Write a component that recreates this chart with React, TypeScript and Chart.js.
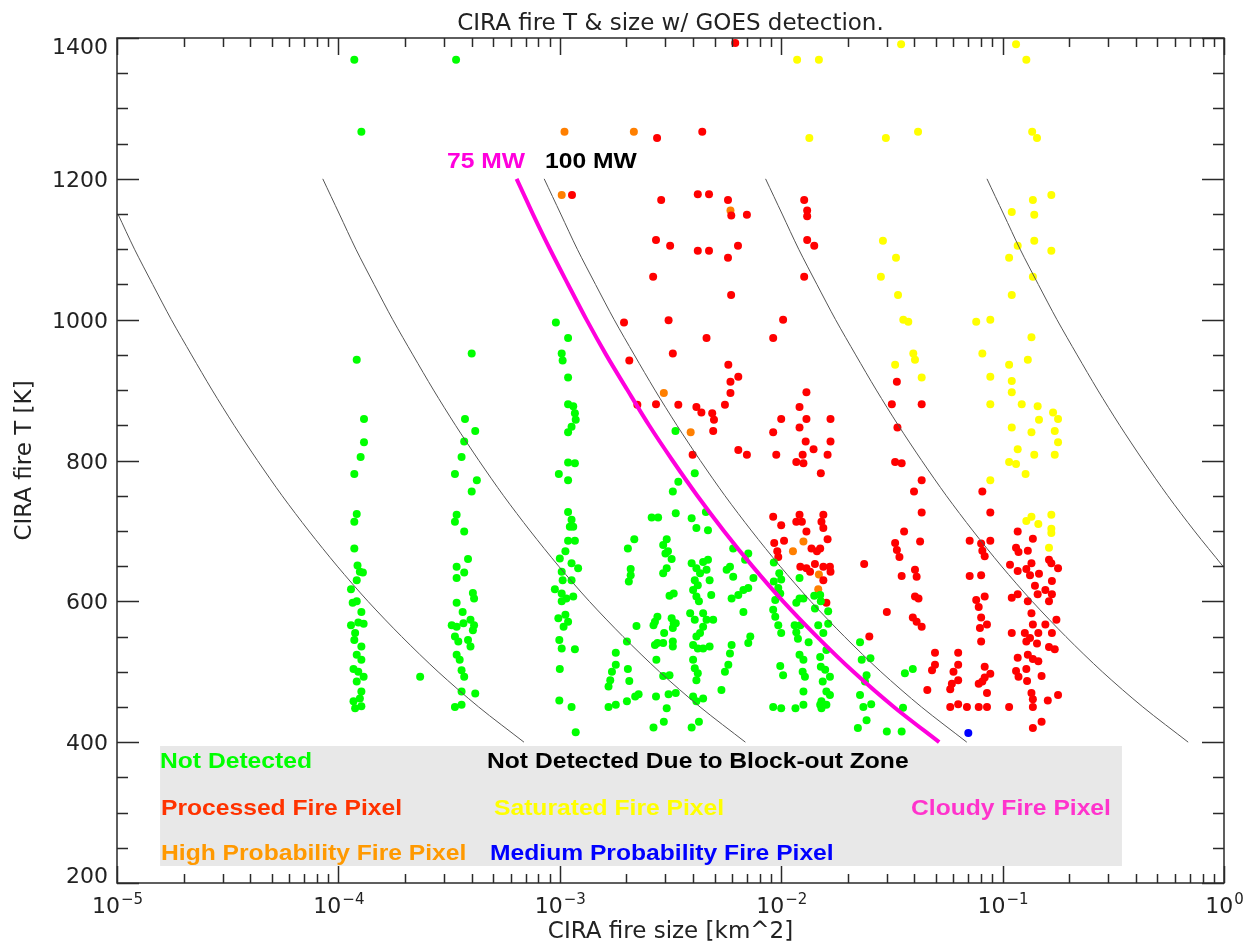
import React, { useEffect, useRef } from "react";
import { Chart, registerables } from "chart.js";

Chart.register(...registerables);

// ---------------- data (fire size [km^2], fire T [K]) ----------------
const notDetected: [number, number][] = [
  // column ~1.2e-4
  [1.18e-4, 1369], [1.27e-4, 1267], [1.21e-4, 943], [1.305e-4, 859], [1.305e-4, 826], [1.26e-4, 805],
  [1.18e-4, 781], [1.21e-4, 724], [1.18e-4, 713], [1.18e-4, 675], [1.22e-4, 651], [1.29e-4, 641],
  [1.21e-4, 630], [1.14e-4, 617], [1.21e-4, 600], [1.27e-4, 585], [1.14e-4, 566], [1.30e-4, 568],
  [1.23e-4, 570], [1.19e-4, 555], [1.18e-4, 545], [1.27e-4, 536], [1.21e-4, 524], [1.27e-4, 517],
  [1.17e-4, 504], [1.30e-4, 493], [1.23e-4, 500], [1.21e-4, 486], [1.27e-4, 472], [1.25e-4, 462],
  [1.17e-4, 458], [1.19e-4, 448], [1.27e-4, 451], [1.25e-4, 642], [1.16e-4, 598], [2.34e-4, 493],
  // column ~3.5e-4
  [3.4e-4, 1369], [4.0e-4, 952], [3.73e-4, 859], [4.15e-4, 842], [3.7e-4, 827], [3.6e-4, 805],
  [3.36e-4, 781], [4.22e-4, 772], [4.0e-4, 756], [3.42e-4, 723], [3.36e-4, 713], [3.7e-4, 699],
  [3.85e-4, 660], [3.42e-4, 649], [3.7e-4, 641], [3.42e-4, 633], [4.05e-4, 612], [4.1e-4, 604],
  [3.42e-4, 598], [3.64e-4, 585], [3.25e-4, 566], [3.42e-4, 564], [3.67e-4, 569], [3.95e-4, 574],
  [4.1e-4, 566], [4.05e-4, 559], [3.36e-4, 550], [3.48e-4, 543], [3.85e-4, 545], [3.95e-4, 536],
  [3.42e-4, 524], [3.53e-4, 517], [3.6e-4, 502], [3.7e-4, 493], [3.6e-4, 472], [4.15e-4, 469],
  [3.36e-4, 450], [3.6e-4, 453],
  // column ~1.1e-3
  [9.6e-4, 996], [1.09e-3, 974], [1.02e-3, 952], [1.03e-3, 942], [1.09e-3, 918], [1.09e-3, 880],
  [1.15e-3, 877], [1.17e-3, 867], [1.18e-3, 858], [1.13e-3, 848], [1.09e-3, 840], [1.09e-3, 797],
  [1.17e-3, 796], [9.9e-4, 781], [1.09e-3, 772], [1.09e-3, 727], [1.13e-3, 716], [1.11e-3, 706],
  [1.15e-3, 706], [1.09e-3, 686], [1.17e-3, 686], [1.06e-3, 671], [1.0e-3, 661], [1.13e-3, 654],
  [1.21e-3, 647], [1.02e-3, 642], [1.03e-3, 630], [1.13e-3, 630], [9.5e-4, 617], [1.02e-3, 611],
  [1.07e-3, 604], [1.15e-3, 607], [1.02e-3, 600], [9.85e-4, 576], [1.06e-3, 581], [1.09e-3, 571],
  [1.04e-3, 564], [9.95e-4, 545], [1.02e-3, 533], [1.17e-3, 532], [1.0e-3, 504], [9.95e-4, 459],
  [1.13e-3, 450], [1.18e-3, 414],
  // cluster 1.6e-3 .. 7.5e-3
  [2.6e-3, 719], [2.78e-3, 719], [2.17e-3, 688], [2.03e-3, 675], [2.09e-3, 646], [2.09e-3, 637],
  [2.05e-3, 628], [2.22e-3, 565], [1.79e-3, 527], [1.79e-3, 510], [1.72e-3, 500], [1.69e-3, 488],
  [1.66e-3, 479], [2.03e-3, 504], [2.06e-3, 487], [1.66e-3, 450], [1.79e-3, 453], [2.01e-3, 458],
  [2.19e-3, 465], [2.27e-3, 468], [2.01e-3, 543],
  [3.04e-3, 688], [2.93e-3, 680], [3.08e-3, 671], [3.2e-3, 660], [3.0e-3, 668], [2.93e-3, 640],
  [3.04e-3, 647], [2.69e-3, 571], [2.76e-3, 578], [2.65e-3, 566], [2.96e-3, 555], [2.76e-3, 541],
  [2.69e-3, 538], [2.93e-3, 541], [2.73e-3, 517], [2.93e-3, 494], [3.13e-3, 495], [2.72e-3, 465],
  [3.04e-3, 448], [3.1e-3, 468], [2.65e-3, 421], [2.95e-3, 429], [3.13e-3, 608], [3.27e-3, 611],
  [3.2e-3, 576], [3.27e-3, 569], [3.24e-3, 562], [3.34e-3, 569], [3.24e-3, 543], [3.24e-3, 536],
  [3.34e-3, 470],
  [3.94e-3, 654], [4.14e-3, 647], [4.44e-3, 656], [4.67e-3, 659], [4.6e-3, 645], [4.3e-3, 640],
  [4.07e-3, 630], [4.2e-3, 623], [4.0e-3, 616], [4.14e-3, 607], [4.25e-3, 600], [4.75e-3, 630],
  [4.83e-3, 609], [3.88e-3, 583], [4.07e-3, 574], [4.44e-3, 583], [4.6e-3, 574], [4.93e-3, 574],
  [4.44e-3, 564], [4.3e-3, 555], [4.14e-3, 550], [4.0e-3, 538], [4.2e-3, 533], [4.44e-3, 533],
  [4.75e-3, 536], [4.0e-3, 517], [4.07e-3, 505], [4.2e-3, 498], [4.14e-3, 488], [4.0e-3, 465],
  [4.44e-3, 462], [4.14e-3, 458], [3.94e-3, 421], [4.25e-3, 429], [3.34e-3, 725], [3.94e-3, 718],
  [4.14e-3, 704], [4.67e-3, 701], [4.57e-3, 727], [4.07e-3, 782], [3.43e-3, 770], [3.24e-3, 756],
  [3.33e-3, 842],
  [5.87e-3, 649], [6.07e-3, 635], [5.67e-3, 645], [5.97e-3, 604], [6.4e-3, 609], [6.75e-3, 616],
  [6.75e-3, 585], [5.97e-3, 538], [5.87e-3, 526], [7.25e-3, 550], [7.1e-3, 541], [5.77e-3, 510],
  [5.57e-3, 500], [5.37e-3, 474], [6.07e-3, 675], [6.87e-3, 659], [7.1e-3, 668], [7.49e-3, 633],
  [7.1e-3, 619],
  // column ~1.2e-2
  [9.26e-3, 655], [9.8e-3, 640], [1.0e-2, 631], [9.26e-3, 628], [9.7e-3, 619], [9.9e-3, 611],
  [9.4e-3, 602], [9.2e-3, 588], [9.4e-3, 578], [9.7e-3, 566], [1.0e-2, 555], [1.21e-2, 633],
  [1.21e-2, 604], [1.26e-2, 604], [1.17e-2, 598], [1.41e-2, 608], [1.50e-2, 609], [1.42e-2, 590],
  [1.51e-2, 600], [1.63e-2, 586], [1.15e-2, 566], [1.22e-2, 566], [1.47e-2, 566], [1.55e-2, 555],
  [1.63e-2, 568], [1.17e-2, 556], [1.19e-2, 547], [1.33e-2, 542], [1.21e-2, 524], [1.26e-2, 517],
  [1.50e-2, 521], [1.60e-2, 531], [1.51e-2, 507], [1.58e-2, 503], [1.66e-2, 493], [9.9e-3, 508],
  [1.02e-2, 495], [1.25e-2, 500], [1.28e-2, 493], [1.54e-2, 486], [1.26e-2, 472], [1.60e-2, 472],
  [1.66e-2, 467], [1.52e-2, 458], [9.2e-3, 450], [1.0e-2, 448], [1.16e-2, 448], [1.26e-2, 453],
  [1.50e-2, 453], [1.60e-2, 453], [1.52e-2, 448],
  // 2e-2 .. 4e-2
  [2.27e-2, 542], [2.31e-2, 517], [2.53e-2, 519], [2.43e-2, 495], [2.39e-2, 486], [2.27e-2, 467],
  [2.35e-2, 450], [2.55e-2, 454], [2.43e-2, 431], [2.22e-2, 420], [3.0e-2, 415], [3.5e-2, 415],
  [3.62e-2, 498], [3.93e-2, 504], [3.55e-2, 449],
];

const processed: [number, number][] = [
  [6.2e-3, 1393], [2.75e-3, 1258], [4.4e-3, 1267], [1.135e-3, 1177], [2.87e-3, 1170], [4.2e-3, 1178],
  [4.72e-3, 1178], [5.75e-3, 1170], [5.95e-3, 1148], [7.0e-3, 1149], [2.72e-3, 1113], [3.15e-3, 1105],
  [4.2e-3, 1098], [4.72e-3, 1098], [6.38e-3, 1105], [5.75e-3, 1088], [2.64e-3, 1061], [5.94e-3, 1035],
  [1.27e-2, 1170], [1.31e-2, 1155], [1.31e-2, 1147], [1.31e-2, 1113], [1.41e-2, 1105], [1.27e-2, 1061],
  [1.95e-3, 996], [3.1e-3, 999], [4.6e-3, 974], [3.24e-3, 952], [2.06e-3, 942], [5.77e-3, 936],
  [6.4e-3, 919], [5.9e-3, 912], [5.9e-3, 896], [2.24e-3, 879], [2.72e-3, 880], [3.43e-3, 879],
  [4.14e-3, 876], [4.36e-3, 868], [4.88e-3, 867], [4.97e-3, 858], [5.57e-3, 879], [4.93e-3, 842],
  [3.98e-3, 808], [6.4e-3, 815], [7.0e-3, 808],
  [1.02e-2, 1000], [9.2e-3, 974], [1.30e-2, 897], [1.21e-2, 876], [1.0e-2, 859], [1.30e-2, 859],
  [1.67e-2, 859], [9.2e-3, 840], [1.21e-2, 847], [1.29e-2, 827], [1.40e-2, 816], [1.67e-2, 827],
  [9.5e-3, 808], [1.25e-2, 808], [1.17e-2, 798], [1.26e-2, 796], [1.62e-2, 808], [1.51e-2, 782],
  [9.2e-3, 720], [1.0e-2, 708], [1.21e-2, 723], [1.17e-2, 713], [1.24e-2, 713], [1.55e-2, 723],
  [1.52e-2, 713], [1.55e-2, 704], [1.30e-2, 699], [1.62e-2, 688], [9.3e-3, 683], [9.6e-3, 671],
  [9.7e-3, 663], [1.03e-2, 686], [1.37e-2, 675], [1.45e-2, 671], [1.50e-2, 675], [1.22e-2, 649],
  [1.30e-2, 647], [1.35e-2, 642], [1.42e-2, 653], [1.55e-2, 649], [1.67e-2, 642], [1.66e-2, 649],
  [1.55e-2, 630], [1.60e-2, 598],
  [3.33e-2, 912], [3.16e-2, 880], [4.31e-2, 880], [3.35e-2, 847], [3.27e-2, 798], [3.5e-2, 796],
  [4.31e-2, 772], [3.98e-2, 756], [4.31e-2, 726], [3.59e-2, 699], [4.24e-2, 685], [3.27e-2, 683],
  [3.33e-2, 673], [3.42e-2, 663], [2.37e-2, 653], [3.5e-2, 636], [4.02e-2, 645], [4.09e-2, 635],
  [4.02e-2, 607], [4.17e-2, 604], [3.0e-2, 585], [3.93e-2, 577], [4.09e-2, 571], [4.31e-2, 564],
  [2.5e-2, 550], [4.57e-2, 474],
  [4.95e-2, 527], [4.95e-2, 510], [4.8e-2, 502], [6.3e-2, 527], [6.3e-2, 510], [6.0e-2, 500],
  [6.3e-2, 488], [5.9e-2, 483], [5.8e-2, 475], [5.8e-2, 450], [6.3e-2, 454], [6.9e-2, 450],
  [8.1e-2, 756], [8.8e-2, 726], [7.1e-2, 686], [8.0e-2, 682], [8.8e-2, 686], [8.1e-2, 672],
  [8.3e-2, 664], [7.1e-2, 636], [8.0e-2, 637], [7.6e-2, 602], [8.3e-2, 607], [7.8e-2, 592],
  [8.0e-2, 577], [8.5e-2, 567], [7.9e-2, 562], [8.0e-2, 543], [8.3e-2, 507], [8.8e-2, 497],
  [7.8e-2, 483], [8.1e-2, 486], [8.5e-2, 470], [7.8e-2, 450], [8.5e-2, 450], [8.3e-2, 492],
  [0.117, 699], [0.137, 689], [0.115, 676], [0.118, 670], [0.130, 672], [0.162, 659], [0.166, 654],
  [0.178, 647], [0.108, 652], [0.117, 643], [0.128, 646], [0.135, 654], [0.133, 637], [0.146, 639],
  [0.167, 629], [0.140, 622], [0.144, 610], [0.156, 616], [0.162, 600], [0.167, 610], [0.110, 605],
  [0.117, 610], [0.130, 600], [0.135, 583], [0.137, 567], [0.156, 567], [0.175, 574], [0.167, 555],
  [0.110, 555], [0.126, 555], [0.145, 555], [0.133, 548], [0.128, 543], [0.143, 540], [0.162, 535],
  [0.172, 532], [0.117, 520], [0.130, 524], [0.137, 518], [0.145, 515], [0.115, 501], [0.118, 493],
  [0.128, 504], [0.150, 494], [0.129, 487], [0.135, 470], [0.137, 461], [0.160, 459], [0.178, 467],
  [0.137, 450], [0.107, 450], [0.137, 420], [0.150, 429],
];

const highProbability: [number, number][] = [
  [1.05e-3, 1267], [2.16e-3, 1267], [1.02e-3, 1177], [5.9e-3, 1155], [2.95e-3, 896], [3.9e-3, 840],
  [1.26e-2, 685], [1.13e-2, 671], [1.48e-2, 638], [1.47e-2, 617],
];

const saturated: [number, number][] = [
  [1.18e-2, 1369], [1.48e-2, 1369], [1.34e-2, 1258], [3.48e-2, 1391], [0.115, 1391], [0.128, 1369],
  [2.97e-2, 1258], [4.15e-2, 1267], [0.136, 1267], [0.143, 1258], [0.166, 1177], [0.137, 1170],
  [0.110, 1153], [0.139, 1149], [0.139, 1112], [0.117, 1105], [0.107, 1088], [0.166, 1098],
  [0.137, 1061], [0.110, 1035], [2.88e-2, 1112], [3.3e-2, 1088], [2.82e-2, 1061], [3.37e-2, 1035],
  [3.56e-2, 1000], [3.75e-2, 997], [3.95e-2, 952], [4.02e-2, 943], [3.27e-2, 936], [4.31e-2, 918],
  [7.6e-2, 997], [8.8e-2, 1000], [0.135, 975], [8.1e-2, 952], [0.130, 943], [0.107, 936],
  [8.8e-2, 919], [0.110, 913], [0.110, 897], [8.8e-2, 880], [0.122, 880], [0.144, 877],
  [0.169, 868], [0.178, 859], [0.146, 858], [0.110, 847], [0.135, 840], [0.172, 842],
  [0.178, 826], [0.117, 816], [0.139, 808], [0.172, 808], [0.107, 798], [0.115, 795],
  [0.127, 781], [8.8e-2, 772],
  [0.128, 714], [0.135, 720], [0.145, 710], [0.166, 723], [0.166, 703], [0.166, 697], [0.162, 676],
];

const mediumProbability: [number, number][] = [[7.0e-2, 413]];

// constant-power curves: temperatures and matching fire sizes
const curveT = [400, 450, 500, 550, 600, 650, 700, 750, 800, 850, 900, 950, 1000, 1050, 1100, 1150, 1200];
const size1MW = [6.89e-4, 4.30e-4, 2.82e-4, 1.93e-4, 1.36e-4, 9.88e-5, 7.35e-5, 5.57e-5, 4.31e-5, 3.38e-5, 2.69e-5, 2.17e-5, 1.76e-5, 1.45e-5, 1.20e-5, 1.01e-5];
const size10MW = [6.89e-3, 4.30e-3, 2.82e-3, 1.93e-3, 1.36e-3, 9.88e-4, 7.35e-4, 5.57e-4, 4.31e-4, 3.38e-4, 2.69e-4, 2.17e-4, 1.76e-4, 1.45e-4, 1.20e-4, 1.01e-4, 8.50e-5];
const size100MW = [6.89e-2, 4.30e-2, 2.82e-2, 1.93e-2, 1.36e-2, 9.88e-3, 7.35e-3, 5.57e-3, 4.31e-3, 3.38e-3, 2.69e-3, 2.17e-3, 1.76e-3, 1.45e-3, 1.20e-3, 1.01e-3, 8.50e-4];
const size1000MW = [0.689, 0.430, 0.282, 0.193, 0.136, 9.88e-2, 7.35e-2, 5.57e-2, 4.31e-2, 3.38e-2, 2.69e-2, 2.17e-2, 1.76e-2, 1.45e-2, 1.20e-2, 1.01e-2, 8.50e-3];
const curveT10000 = [650, 700, 750, 800, 850, 900, 950, 1000, 1050, 1100, 1150, 1200];
const size10000MW = [0.988, 0.735, 0.557, 0.431, 0.338, 0.269, 0.217, 0.176, 0.145, 0.120, 0.101, 0.085];
const size75MW = [5.17e-2, 3.23e-2, 2.12e-2, 1.45e-2, 1.02e-2, 7.41e-3, 5.51e-3, 4.18e-3, 3.23e-3, 2.53e-3, 2.02e-3, 1.62e-3, 1.32e-3, 1.09e-3, 9.03e-4, 7.56e-4, 6.38e-4];

// axis ticks
const yMajorTicks = [200, 400, 600, 800, 1000, 1200, 1400];
const yMinorTicks = [250, 300, 350, 450, 500, 550, 650, 700, 750, 850, 900, 950, 1050, 1100, 1150, 1250, 1300, 1350];
const xDecades = [1e-5, 1e-4, 1e-3, 1e-2, 1e-1, 1];
const xExponents = ["\u22125", "\u22124", "\u22123", "\u22122", "\u22121", "0"];
const xMinorMultipliers = [2, 3, 4, 5, 6, 7, 8, 9];

// legend texts
const legendTexts = [
  { text: "Not Detected", color: "#00ff00", x: 160, y: 768 },
  { text: "Not Detected Due to Block-out Zone", color: "#000000", x: 487, y: 768 },
  { text: "Processed Fire Pixel", color: "#ff3300", x: 161, y: 815 },
  { text: "Saturated Fire Pixel", color: "#ffff00", x: 494, y: 815 },
  { text: "Cloudy Fire Pixel", color: "#ff33cc", x: 911, y: 815 },
  { text: "High Probability Fire Pixel", color: "#ff9900", x: 161, y: 860 },
  { text: "Medium Probability Fire Pixel", color: "#0000ff", x: 490, y: 860 },
];
const legendBox = { x0: 1.565e-5, x1: 0.346, t0: 394.6, t1: 224.2 };

const toXY = (arr: [number, number][]) => arr.map(([x, y]) => ({ x, y }));
const curve = (sizes: number[], temps: number[]) => sizes.map((s, i) => ({ x: s, y: temps[i] }));

const LABEL_FONT = '"DejaVu Sans", sans-serif';
const BOLD_FONT = '"Liberation Sans", Arial, sans-serif';

const idlPlugin = {
  id: "idlFrame",
  beforeDatasetsDraw(chart: any) {
    const { ctx, scales } = chart;
    const xs = scales.x, ys = scales.y;
    const l = xs.getPixelForValue(legendBox.x0);
    const r = xs.getPixelForValue(legendBox.x1);
    const t = ys.getPixelForValue(legendBox.t0);
    const b = ys.getPixelForValue(legendBox.t1);
    ctx.save();
    ctx.fillStyle = "#e8e8e8";
    ctx.fillRect(l, t, r - l, b - t);
    ctx.restore();
  },
  afterDraw(chart: any) {
    const { ctx, scales, chartArea } = chart;
    const xs = scales.x, ys = scales.y;
    const { left, right, top, bottom } = chartArea;
    ctx.save();
    // frame
    ctx.strokeStyle = "#2a2a2a";
    ctx.lineWidth = 1.5;
    ctx.strokeRect(left, top, right - left, bottom - top);
    // y ticks
    ctx.lineWidth = 1.5;
    const drawY = (v: number, len: number) => {
      const py = Math.round(ys.getPixelForValue(v)) + 0.5;
      ctx.beginPath();
      ctx.moveTo(left, py); ctx.lineTo(left + len, py);
      ctx.moveTo(right, py); ctx.lineTo(right - len, py);
      ctx.stroke();
    };
    yMajorTicks.forEach((v) => drawY(v, 22));
    yMinorTicks.forEach((v) => drawY(v, 11));
    // x ticks
    const drawX = (v: number, len: number) => {
      const px = Math.round(xs.getPixelForValue(v)) + 0.5;
      ctx.beginPath();
      ctx.moveTo(px, bottom); ctx.lineTo(px, bottom - len);
      ctx.moveTo(px, top); ctx.lineTo(px, top + len);
      ctx.stroke();
    };
    xDecades.forEach((d, i) => {
      drawX(d, 17);
      if (i < xDecades.length - 1) xMinorMultipliers.forEach((m) => drawX(d * m, 9));
    });

    // y tick labels
    ctx.fillStyle = "#222";
    ctx.font = `22px ${LABEL_FONT}`;
    ctx.textAlign = "right";
    ctx.textBaseline = "alphabetic";
    yMajorTicks.forEach((v) => {
      const py = ys.getPixelForValue(v);
      let base = py + 8;
      if (v === 1400) base = py + 16;
      if (v === 200) base = py;
      ctx.fillText(String(v), 108, base);
    });
    // x tick labels (10 with superscript exponent)
    xDecades.forEach((d, i) => {
      const px = xs.getPixelForValue(d);
      ctx.font = `22px ${LABEL_FONT}`;
      const w1 = ctx.measureText("10").width;
      ctx.font = `15px ${LABEL_FONT}`;
      const w2 = ctx.measureText(xExponents[i]).width;
      const start = px - (w1 + w2) / 2;
      ctx.textAlign = "left";
      ctx.font = `22px ${LABEL_FONT}`;
      ctx.fillText("10", start, 913);
      ctx.font = `15px ${LABEL_FONT}`;
      ctx.fillText(xExponents[i], start + w1 + 1, 904);
    });

    // titles
    ctx.textAlign = "center";
    ctx.font = `23px ${LABEL_FONT}`;
    ctx.fillText("CIRA fire T & size w/ GOES detection.", (left + right) / 2, 30);
    ctx.fillText("CIRA fire size [km^2]", (left + right) / 2, 938);
    ctx.save();
    ctx.translate(31, (top + bottom) / 2);
    ctx.rotate(-Math.PI / 2);
    ctx.fillText("CIRA fire T [K]", 0, 0);
    ctx.restore();

    // curve labels and legend texts (bold, slightly wide)
    const boldText = (text: string, color: string, x: number, y: number) => {
      ctx.save();
      ctx.translate(x, y);
      ctx.scale(1.12, 1);
      ctx.font = `bold 22px ${BOLD_FONT}`;
      ctx.textAlign = "left";
      ctx.fillStyle = color;
      ctx.fillText(text, 0, 0);
      ctx.restore();
    };
    boldText("75 MW", "#ff00dd", 447, 168);
    boldText("100 MW", "#000000", 545, 168);
    legendTexts.forEach((t) => boldText(t.text, t.color, t.x, t.y));
    ctx.restore();
  },
};

export default function App() {
  const canvasRef = useRef<HTMLCanvasElement | null>(null);

  useEffect(() => {
    document.body.style.margin = "0";
    const canvas = canvasRef.current;
    if (!canvas) return;
    const pointDs = (label: string, data: [number, number][], color: string) => ({
      label,
      data: toXY(data),
      backgroundColor: color,
      borderColor: color,
      pointRadius: 4,
      pointBorderWidth: 0,
      pointHoverRadius: 4,
      showLine: false,
      order: 2,
    });
    const lineDs = (label: string, data: { x: number; y: number }[], color: string, width: number) => ({
      label,
      data,
      borderColor: color,
      backgroundColor: color,
      borderWidth: width,
      pointRadius: 0,
      pointHoverRadius: 0,
      showLine: true,
      tension: 0.3,
      fill: false,
      order: 1,
    });
    const chart = new Chart(canvas, {
      type: "scatter",
      data: {
        datasets: [
          lineDs("75 MW", curve(size75MW, curveT), "#ff00dd", 4) as any,
          lineDs("1 MW", curve(size1MW, curveT), "#555555", 1),
          lineDs("10 MW", curve(size10MW, curveT), "#555555", 1),
          lineDs("100 MW", curve(size100MW, curveT), "#555555", 1),
          lineDs("1000 MW", curve(size1000MW, curveT), "#555555", 1),
          lineDs("10000 MW", curve(size10000MW, curveT10000), "#555555", 1),
          pointDs("Not Detected", notDetected, "#00ff00"),
          pointDs("Processed Fire Pixel", processed, "#ff0000"),
          pointDs("Saturated Fire Pixel", saturated, "#ffff00"),
          pointDs("High Probability Fire Pixel", highProbability, "#ff7f00"),
          pointDs("Medium Probability Fire Pixel", mediumProbability, "#0000ff"),
        ],
      },
      options: {
        responsive: false,
        animation: false,
        devicePixelRatio: 1,
        layout: { padding: { left: 117, top: 38, right: 28, bottom: 64 } },
        plugins: { legend: { display: false }, tooltip: { enabled: false } },
        scales: {
          x: { type: "logarithmic", min: 1e-5, max: 1, display: false },
          y: { type: "linear", min: 200, max: 1400, display: false },
        },
      },
      plugins: [idlPlugin],
    });
    return () => chart.destroy();
  }, []);

  return (
    <div style={{ width: 1252, height: 947, background: "#fff" }}>
      <canvas ref={canvasRef} width={1252} height={947} style={{ display: "block" }} />
    </div>
  );
}
